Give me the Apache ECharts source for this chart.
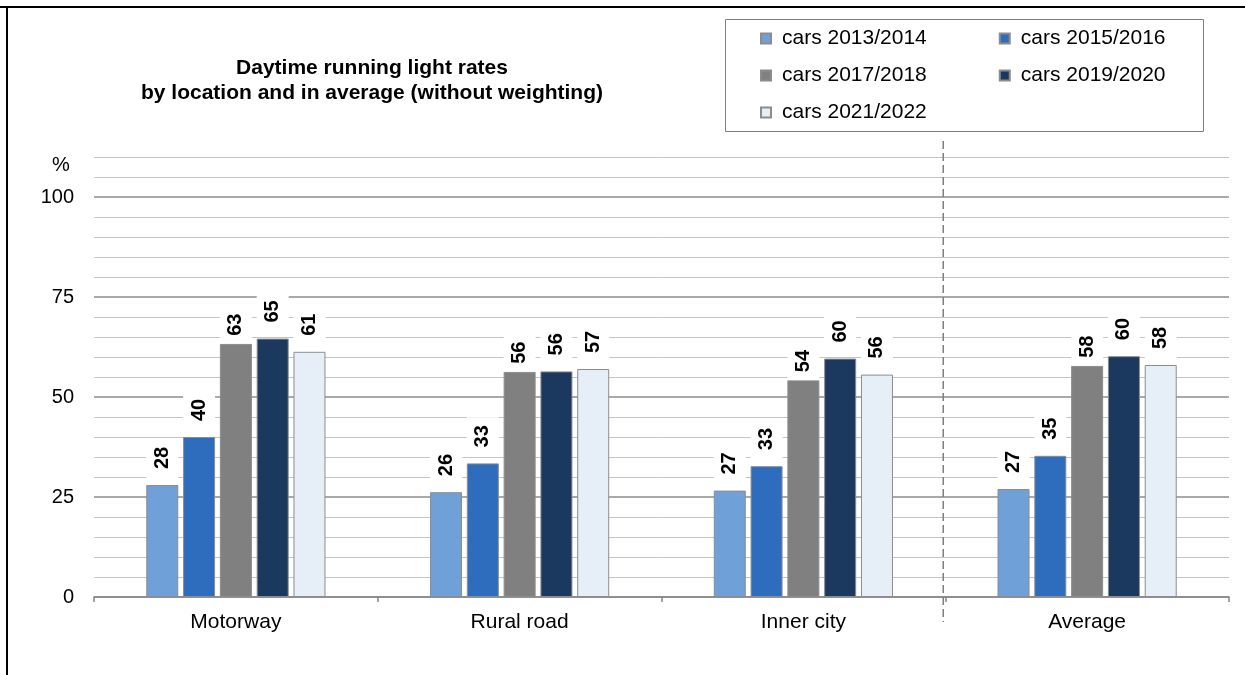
<!DOCTYPE html>
<html>
<head>
<meta charset="utf-8">
<script src="https://cdn.jsdelivr.net/npm/echarts@6/dist/echarts.min.js"></script>
<style>
html,body{margin:0;padding:0;background:#fff;}
#chart{width:1245px;height:675px;}
</style>
</head>
<body>
<div id="chart"></div>
<script>
const categories = ['Motorway', 'Rural road', 'Inner city', 'Average'];
const seriesNames = ['cars 2013/2014', 'cars 2015/2016', 'cars 2017/2018', 'cars 2019/2020', 'cars 2021/2022'];
const cars2013 = [28.0, 26.2, 26.6, 27.0];
const cars2015 = [40.0, 33.4, 32.7, 35.3];
const cars2017 = [63.3, 56.3, 54.2, 57.8];
const cars2019 = [64.6, 56.4, 59.6, 60.2];
const cars2021 = [61.3, 57.0, 55.6, 58.0];
const yTickLabels = [0, 25, 50, 75, 100];

const seriesData = [cars2013, cars2015, cars2017, cars2019, cars2021];
const colors = ['#6fa0d8', '#2e6dbd', '#808080', '#1b385e', '#e6eef8'];
const labelDistance = [7, 7, 0, 7, 7];
const labelPadLeft = [9, 9, 8, 9, 9];
const FONT = '"Liberation Sans", Arial, sans-serif';

const chart = echarts.init(document.getElementById('chart'), null, {renderer: 'canvas'});

const series = seriesNames.map((name, i) => ({
  name: name,
  type: 'bar',
  data: seriesData[i],
  barWidth: 32,
  barGap: '15%',
  itemStyle: {color: colors[i], borderColor: '#8c8c8c', borderWidth: 1},
  label: {
    show: true,
    position: 'top',
    rotate: 90,
    align: 'left',
    verticalAlign: 'middle',
    distance: labelDistance[i],
    formatter: p => Math.round(p.value),
    fontFamily: FONT,
    fontSize: 20,
    fontWeight: 'bold',
    color: '#000',
    backgroundColor: '#fff',
    padding: [6, 8, 6, labelPadLeft[i]]
  }
}));

function legendRow(names, top) {
  return {
    data: names,
    left: 760,
    top: top,
    padding: 0,
    itemGap: 72,
    itemWidth: 10,
    itemHeight: 10,
    icon: 'rect',
    selectedMode: false,
    textStyle: {fontFamily: FONT, fontSize: 21, color: '#000', padding: [0, 0, 0, 6], lineHeight: 20}
  };
}

chart.setOption({
  animation: false,
  backgroundColor: '#fff',
  title: {
    text: 'Daytime running light rates\nby location and in average (without weighting)',
    left: 372,
    top: 56,
    textAlign: 'center',
    padding: 0,
    textStyle: {fontFamily: FONT, fontSize: 21, fontWeight: 'bold', color: '#000', lineHeight: 25}
  },
  legend: [
    legendRow([seriesNames[0], seriesNames[1]], 28),
    legendRow([seriesNames[2], seriesNames[3]], 65),
    legendRow([seriesNames[4]], 102)
  ],
  grid: {left: 94, right: 16, top: 157, bottom: 78, containLabel: false},
  xAxis: {
    type: 'category',
    data: categories,
    axisLine: {lineStyle: {color: '#868686', width: 1.5}},
    axisTick: {show: true, length: 5, lineStyle: {color: '#868686', width: 1.5}},
    axisLabel: {fontFamily: FONT, fontSize: 21, color: '#000', margin: 15}
  },
  yAxis: [
    {
      type: 'value',
      min: 0, max: 110, interval: 25,
      axisLine: {show: false},
      axisTick: {show: false},
      axisLabel: {
        fontFamily: FONT, fontSize: 20, color: '#000', margin: 20,
        formatter: v => (yTickLabels.indexOf(v) >= 0 ? String(v) : '')
      },
      splitLine: {show: true, showMaxLine: false, lineStyle: {color: '#8c8c8c', width: 1.5}}
    },
    {
      type: 'value',
      min: 0, max: 110, interval: 5,
      axisLine: {show: false},
      axisTick: {show: false},
      axisLabel: {show: false},
      splitLine: {show: true, lineStyle: {color: ['transparent', '#c4c4c4', '#c4c4c4', '#c4c4c4', '#c4c4c4'], width: 1}}
    }
  ],
  series: series
});

// decorations derived from the chart's own scales
const xSep = (chart.convertToPixel({xAxisIndex: 0}, categories[2]) + chart.convertToPixel({xAxisIndex: 0}, categories[3])) / 2;
const yTop = chart.convertToPixel({yAxisIndex: 0}, 110);
const yZero = chart.convertToPixel({yAxisIndex: 0}, 0);
const yPct = chart.convertToPixel({yAxisIndex: 0}, 107.8);

chart.setOption({
  graphic: [
    {type: 'rect', z: 0, shape: {x: 725.5, y: 19.5, width: 478, height: 112}, style: {fill: '#fff', stroke: '#808080', lineWidth: 1}},
    {type: 'line', z: 10, shape: {x1: 0, y1: 7, x2: 1245, y2: 7}, style: {stroke: '#000', lineWidth: 2}},
    {type: 'line', z: 10, shape: {x1: 7, y1: 6, x2: 7, y2: 675}, style: {stroke: '#000', lineWidth: 2}},
    {type: 'line', z: 1, shape: {x1: xSep - 2, y1: yTop - 16, x2: xSep - 2, y2: yZero + 25}, style: {stroke: '#7f7f7f', lineWidth: 1.5, lineDash: [8, 4]}},
    {type: 'text', z: 5, x: 61, y: yPct, style: {text: '%', fontFamily: FONT, fontSize: 20, fill: '#000', textAlign: 'center', textVerticalAlign: 'middle'}}
  ]
});
</script>
</body>
</html>
